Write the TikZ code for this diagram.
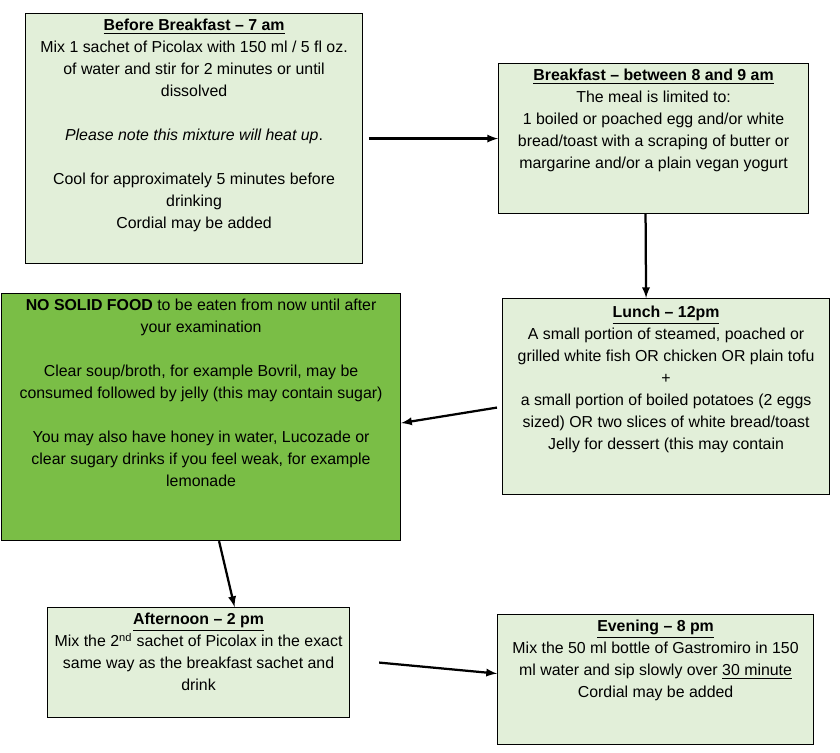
\documentclass[tikz,border=0pt]{standalone}
\usepackage{fontspec}
\setmainfont{Liberation Sans}
\usetikzlibrary{positioning}
\definecolor{palegreen}{RGB}{226,239,217}
\definecolor{solidgreen}{RGB}{122,190,70}
\tikzset{
  box/.style={draw,thick,fill=palegreen,anchor=north west,inner sep=0pt},
  txt/.style={anchor=north,align=center,inner sep=0pt,font=\fontsize{11.3}{15.6}\selectfont},
  arr/.style={-latex,line width=1.6pt}
}
\begin{document}
\begin{tikzpicture}[x=0.025cm,y=-0.025cm]
\useasboundingbox (0,0) rectangle (840,752);
% boxes
\node[box,minimum width=337*0.025cm,minimum height=250*0.025cm] (b1) at (25,13) {};
\node[box,minimum width=310*0.025cm,minimum height=150*0.025cm] (b2) at (498,63) {};
\node[box,minimum width=327*0.025cm,minimum height=196*0.025cm] (b3) at (502,298) {};
\node[box,fill=solidgreen,minimum width=399*0.025cm,minimum height=247*0.025cm] (b4) at (1,293) {};
\node[box,minimum width=302*0.025cm,minimum height=110*0.025cm] (b5) at (47,607) {};
\node[box,minimum width=316*0.025cm,minimum height=130*0.025cm] (b6) at (497,614) {};
% texts
\node[txt] (t1) at ([yshift=-0.15cm]b1.north) {\textbf{\underline{Before Breakfast – 7 am}}\\
Mix 1 sachet of Picolax with 150 ml / 5 fl oz.\\ of water and stir for 2 minutes or until\\ dissolved\\[15.6pt]
\textit{Please note this mixture will heat up}.\\[15.6pt]
Cool for approximately 5 minutes before\\ drinking\\ Cordial may be added};
\node[txt] (t2) at ([yshift=-0.15cm]b2.north) {\textbf{\underline{Breakfast – between 8 and 9 am}}\\
The meal is limited to:\\ 1 boiled or poached egg and/or white\\ bread/toast with a scraping of butter or\\ margarine and/or a plain vegan yogurt};
\node[txt] (t3) at ([yshift=-0.2cm]b3.north) {\textbf{\underline{Lunch – 12pm}}\\
A small portion of steamed, poached or\\ grilled white fish OR chicken OR plain tofu\\ +\\
a small portion of boiled potatoes (2 eggs\\ sized) OR two slices of white bread/toast\\ Jelly for dessert (this may contain};
\node[txt] (t4) at ([yshift=-0.15cm]b4.north) {\textbf{NO SOLID FOOD} to be eaten from now until after\\ your examination\\[15.6pt]
Clear soup/broth, for example Bovril, may be\\ consumed followed by jelly (this may contain sugar)\\[15.6pt]
You may also have honey in water, Lucozade or\\ clear sugary drinks if you feel weak, for example\\ lemonade};
\node[txt] (t5) at ([yshift=-0.15cm]b5.north) {\textbf{\underline{Afternoon – 2 pm}}\\
Mix the 2\textsuperscript{nd} sachet of Picolax in the exact\\ same way as the breakfast sachet and\\ drink};
\node[txt] (t6) at ([yshift=-0.15cm]b6.north) {\textbf{\underline{Evening – 8 pm}}\\
Mix the 50 ml bottle of Gastromiro in 150\\ ml water and sip slowly over \underline{30 minute}\\ Cordial may be added};
% arrows
\draw[arr] ([xshift=4pt]b1.east) -- (b2.west);
\draw[arr] ([xshift=-8*0.025cm]b2.south) -- ([xshift=-20*0.025cm]b3.north);
\draw[arr] ([xshift=-5*0.025cm,yshift=-11*0.025cm]b3.west) -- ([yshift=-6*0.025cm]b4.east);
\draw[arr] ([xshift=18*0.025cm]b4.south) -- ([xshift=36*0.025cm]b5.north);
\draw[arr] ([xshift=29*0.025cm]b5.east) -- ([yshift=6*0.025cm]b6.west);
\end{tikzpicture}
\end{document}
